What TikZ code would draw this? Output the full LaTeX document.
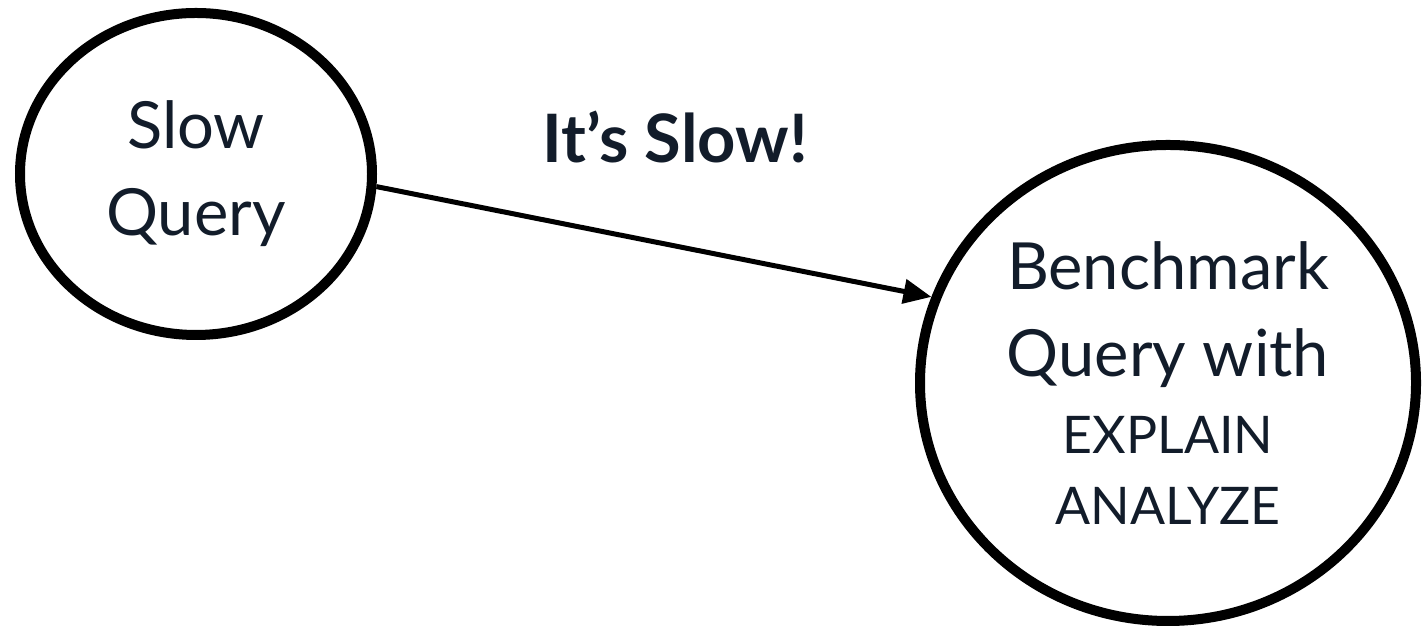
\documentclass[tikz,border=0pt]{standalone}
\usepackage{fontspec}
\setmainfont{Lato}
\usepackage{tikz}
\usetikzlibrary{positioning,arrows.meta,shapes.geometric}
\usepackage{xcolor}
\definecolor{inkblue}{HTML}{121C2A}
\newcommand{\bigtxt}{\fontsize{37}{49.5}\selectfont}
\newcommand{\smalltxt}{\fontsize{29.5}{36}\selectfont}

\begin{document}
\begin{tikzpicture}[>={Triangle[length=0.56cm,width=0.48cm]},
  bubble/.style={draw=black,ellipse,line width=0.2cm,inner sep=0pt,
    text=inkblue,align=center,font=\bigtxt}]
\useasboundingbox (0,0) rectangle (28.44,12.54);
\node[bubble,minimum width=7.04cm,minimum height=6.44cm] (slow) at (3.92,9.06) {Slow\\Query};
\node[bubble,minimum width=9.92cm,minimum height=9.52cm] (bench) at (23.36,4.88)
  {Benchmark\\Query with\\[-0.2cm]{\smalltxt EXPLAIN}\\[-0.32cm]{\smalltxt ANALYZE}};
\node[anchor=base,text=inkblue,font=\fontsize{38}{46}\selectfont\bfseries] (itslow) at (13.5,9.28) {It’s Slow!};
\draw[->,line width=0.1cm] (slow.-4) -- (bench.160);
\end{tikzpicture}
\end{document}
